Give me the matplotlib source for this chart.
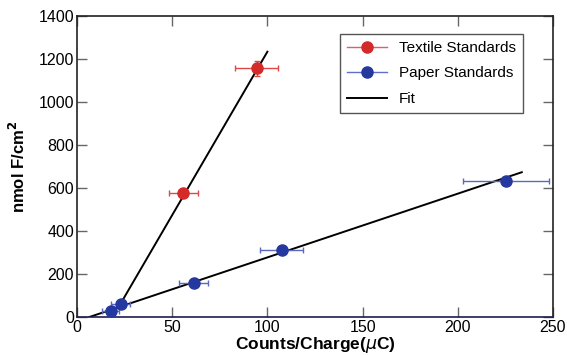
import matplotlib
matplotlib.use("Agg")
import numpy as np
import matplotlib.pyplot as plt
from matplotlib.lines import Line2D

plt.rcParams["font.family"] = ["Liberation Sans", "DejaVu Sans"]

# textile standards
textile_x = [55.8, 94.4]
textile_y = [577, 1157]
textile_xerr = [7.6, 11.3]
textile_yerr = [20, 35]

# paper standards
paper_x = [17.7, 22.9, 61.4, 107.5, 225.1]
paper_y = [29, 62, 158, 312, 633]
paper_xerr = [4.5, 5.0, 7.6, 11.4, 22.6]
paper_yerr = [10, 10, 10, 12, 15]

# fit lines: slope, intercept, x range
textile_fit = (15.2, -286.0, 23.5, 100.0)
paper_fit = (2.965, -19.3, 6.5, 233.6)

red = "#d42a2a"
blue = "#2538a0"

fig = plt.figure(figsize=(5.67, 3.55), dpi=100)
ax = fig.add_axes([77 / 567, 38 / 355, 476 / 567, 301 / 355])

for slope, icpt, x0, x1 in (textile_fit, paper_fit):
    xs = np.array([x0, x1])
    ax.plot(xs, slope * xs + icpt, color="black", lw=1.4, zorder=2)

ax.errorbar(textile_x, textile_y, xerr=textile_xerr, yerr=textile_yerr,
            fmt="o", color=red, ecolor="#e04848", ms=8, elinewidth=1,
            capsize=2.5, zorder=3)
ax.errorbar(paper_x, paper_y, xerr=paper_xerr, yerr=paper_yerr,
            fmt="o", color=blue, ecolor="#5a68c0", ms=8, elinewidth=1,
            capsize=2.5, zorder=3)

ax.set_xlim(0, 250)
ax.set_ylim(0, 1400)
ax.set_xticks(range(0, 251, 50))
ax.set_yticks(range(0, 1401, 200))
ax.tick_params(direction="in", length=7, width=1, color="#666666",
               top=True, right=True, labelsize=11.5, pad=2)
for s in ax.spines.values():
    s.set_linewidth(1.2)
    s.set_color("#222222")
ax.spines["bottom"].set_color("#1c1c50")

ax.set_xlabel("Counts/Charge($\\mu$C)", fontsize=12.5, fontweight="bold", labelpad=0)
ax.set_ylabel("nmol F/cm$^\\mathbf{2}$", fontsize=12, fontweight="bold")
ax.yaxis.set_label_coords(-0.102, 0.5)

handles = [
    Line2D([], [], color="#e06060", marker="o", mfc=red, mec=red, ms=8, lw=1),
    Line2D([], [], color="#6070c8", marker="o", mfc=blue, mec=blue, ms=8, lw=1),
    Line2D([], [], color="black", lw=1.4),
]
leg = ax.legend(handles, ["Textile Standards", "Paper Standards", "Fit"],
                loc="upper right", bbox_to_anchor=(0.937, 0.94), borderaxespad=0,
                fontsize=11, fancybox=False, edgecolor="#555555", framealpha=1,
                handlelength=2.6, borderpad=0.45, labelspacing=0.75)
leg.get_frame().set_linewidth(1)

fig.savefig("out.png", dpi=100)
